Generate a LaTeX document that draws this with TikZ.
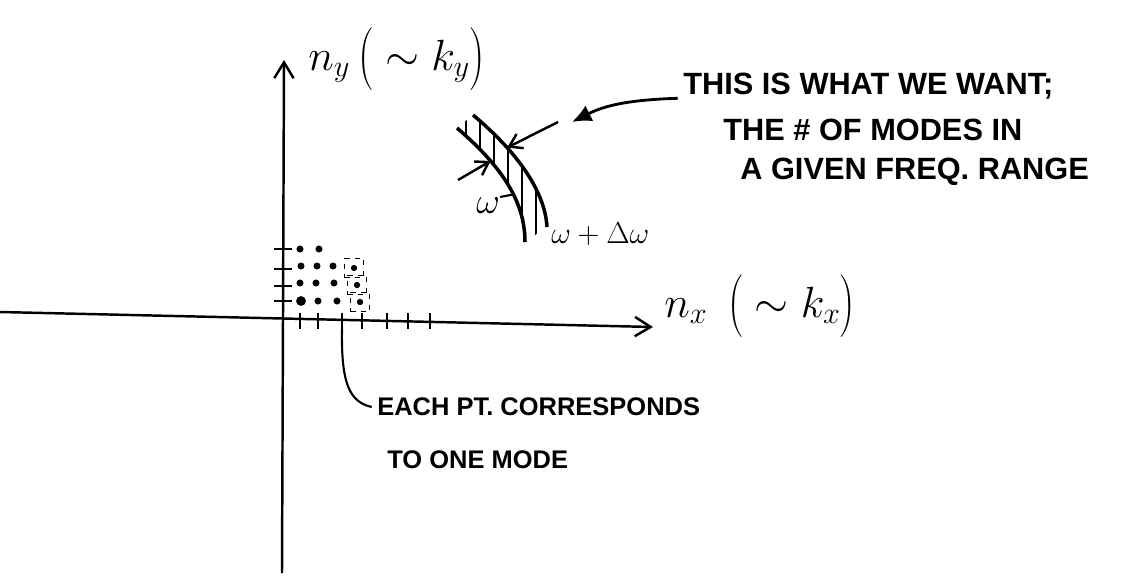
\documentclass[tikz,border=0pt]{standalone}
\usepackage{fontspec}
\setmainfont{Liberation Sans}
\usetikzlibrary{arrows.meta, positioning}
\newcommand{\tallstrut}{\rule[-9pt]{0pt}{32pt}}
\tikzset{
    axis/.style = {line width=1.4pt, -{Straight Barb[length=9pt, width=11pt]}},
    tick/.style = {line width=1.4pt},
    cell/.style = {rectangle, draw, dashed, line width=0.9pt, minimum size=11pt, inner sep=0pt},
    arc/.style = {line width=2pt},
    hatch/.style = {line width=0.8pt},
    pointer/.style = {line width=1.4pt, -{Straight Barb[length=7pt, width=9pt]}},
    bigarrow/.style = {line width=1.6pt, -{Latex[length=11pt, width=10pt]}},
    leader/.style = {line width=1.2pt},
    mathlbl/.style = {anchor=base west, inner sep=0pt, font=\fontsize{26}{30}\selectfont},
    note/.style = {anchor=west, inner sep=0pt, font=\fontsize{17.5}{21}\selectfont\bfseries},
    smallnote/.style = {anchor=west, inner sep=0pt, font=\fontsize{14.5}{18}\selectfont\bfseries}
}

\begin{document}
\begin{tikzpicture}[x=0.02cm, y=-0.02cm]
\useasboundingbox (0,0) rectangle (1146,575);

% Axes
\coordinate (xl) at (0,312);
\coordinate (xr) at (653,327);
\coordinate (yb) at (282,573);
\coordinate (yt) at (284,60);
\draw[axis] (xl) -- (xr);
\draw[axis] (yb) -- (yt);

\node[mathlbl] (ny) at (308,70) {$n_y\left(\tallstrut\sim k_y\right)$};
\node[mathlbl] (nx) at (664,317) {$n_x\;\left(\tallstrut\sim k_x\right)$};

% Ticks
\foreach \y in {249,269,286,301} \draw[tick] (274,\y) -- (292,\y);
\foreach \x [count=\i] in {300,318,342,362,387,408,430} \draw[tick] (\x,313) -- (\x,329) coordinate (tk\i);

% Lattice points
\foreach \x/\y in {300/249, 319/249, 301/266, 317/266, 333/266, 300/283, 316/283, 334/283, 318/301, 337/301}
    \fill (\x,\y) circle[radius=2pt];
\fill (301,301) circle[radius=2.8pt];
\foreach \x/\y [count=\i] in {354/268, 357/285, 360/302} {
    \node[cell] (c\i) at (\x,\y) {};
    \fill (c\i) circle[radius=1.8pt];
}

% Shell between omega and omega + delta omega
\begin{scope}
\clip (457,128) .. controls (500,165) and (525,200) .. (525,242) -- (547,227) .. controls (545,190) and (515,150) .. (473,115) -- cycle;
\foreach \x in {466,480,...,545} \draw[hatch] (\x,100) -- (\x,250);
\end{scope}
\draw[arc] (457,128) .. controls (500,165) and (525,200) .. (525,242) coordinate[pos=0.3] (win) coordinate[pos=0.6] (wleg);
\draw[arc] (473,115) .. controls (515,150) and (545,190) .. (547,227) coordinate[pos=0.3] (wout);

\coordinate (pin) at (458,180);
\coordinate (pout) at (558,122);
\draw[pointer] (pin) -- (win);
\draw[pointer] (pout) -- (wout);

\node[mathlbl, font=\fontsize{20}{24}\selectfont] (om) at (476,213) {$\omega$};
\draw[leader] (wleg) -- (om.north east);
\node[mathlbl, font=\fontsize{16}{20}\selectfont] (omd) at (551,243) {$\omega+\Delta\omega$};

% Notes
\node[note] (want1) at (683,86) {THIS IS WHAT WE WANT;};
\node[note] (want2) at (723,130) {THE \# OF MODES IN};
\node[note] (want3) at (740,172) {A GIVEN FREQ. RANGE};
\coordinate (head) at (572,122);
\draw[bigarrow] ([xshift=-3pt, yshift=-7pt]want1.west) .. controls (620,100) and (600,108) .. (head);

\node[smallnote] (each) at (377,407) {EACH PT. CORRESPONDS};
\node[smallnote] (mode) at (387,460) {TO ONE MODE};
\draw[leader] (tk3) .. controls (341,385) and (350,402) .. ([xshift=-3pt]each.west);

\end{tikzpicture}
\end{document}
